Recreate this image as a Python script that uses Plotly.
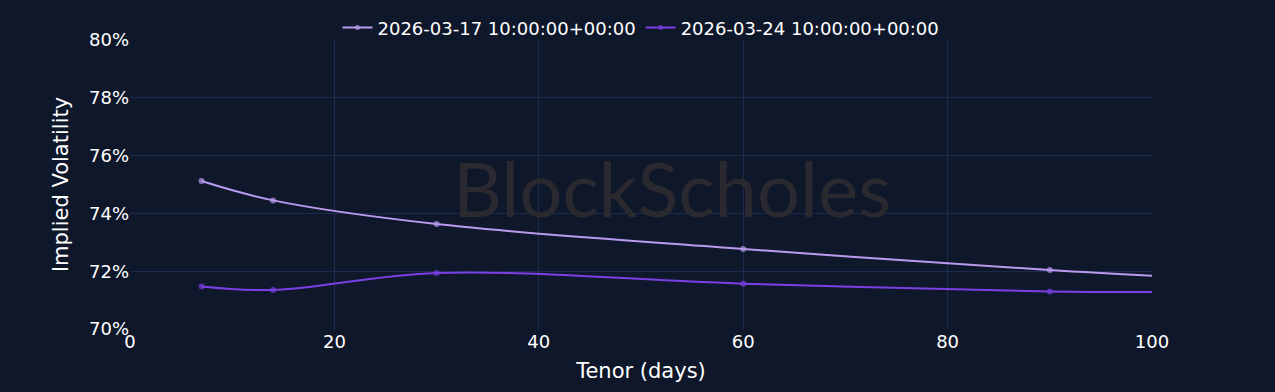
import plotly.graph_objects as go

tenor = [7, 14, 30, 60, 90, 100]
iv_0317 = [75.12, 74.45, 73.63, 72.77, 72.04, 71.84]
iv_0324 = [71.47, 71.35, 71.94, 71.57, 71.30, 71.28]
marker_sizes = [6, 6, 6, 6, 6, 0]
names = ["2026-03-17 10:00:00+00:00", "2026-03-24 10:00:00+00:00"]
colors = ["#b89bef", "#7b3fe4"]

bg = "#0f172b"
grid = "#1c2a4e"
font_family = "DejaVu Sans, Verdana, sans-serif"

fig = go.Figure()
for ys, name, col in zip([iv_0317, iv_0324], names, colors):
    fig.add_trace(go.Scatter(
        x=tenor, y=ys, name=name, mode="lines+markers",
        line=dict(color=col, width=2, shape="spline"),
        marker=dict(color=col, size=marker_sizes, line=dict(width=0)),
    ))

fig.add_annotation(
    text="BlockScholes", x=0.53, y=0.49, xref="paper", yref="paper",
    xanchor="center", yanchor="middle",
    showarrow=False, font=dict(size=76, color="#29292f", family="Lato, Noto Sans, sans-serif"),
)

fig.update_layout(
    width=1275, height=392,
    paper_bgcolor=bg, plot_bgcolor=bg,
    margin=dict(l=130, r=123, t=40, b=63, autoexpand=False),
    font=dict(family=font_family, color="#ffffff", size=16),
    legend=dict(orientation="h", x=0.5, xanchor="center", y=1.042, yanchor="middle",
                font=dict(size=18), bgcolor="rgba(0,0,0,0)"),
    xaxis=dict(range=[0, 100], dtick=20, showgrid=True, gridcolor=grid,
               zeroline=False, showline=False, ticks="",
               title=dict(text="Tenor (days)", font=dict(size=21), standoff=12),
               tickfont=dict(size=18)),
    yaxis=dict(range=[70, 80], dtick=2, ticksuffix="%", showgrid=True, gridcolor=grid,
               zeroline=False, showline=False, ticks="",
               title=dict(text="Implied Volatility", font=dict(size=21), standoff=14),
               tickfont=dict(size=18)),
)

fig.write_html("out.html")
